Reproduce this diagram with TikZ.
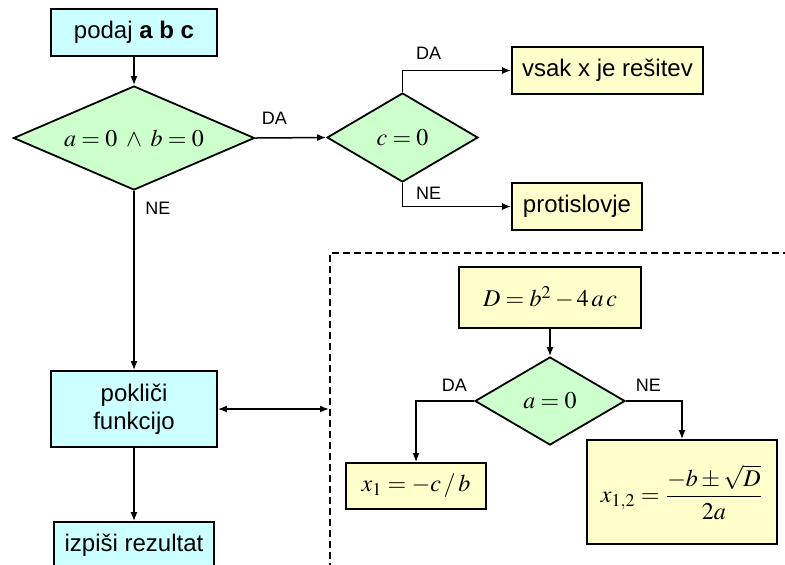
\documentclass[tikz,border=0pt]{standalone}
\usepackage{amsmath}
\usepackage{mathptmx}
\usepackage[no-math]{fontspec}
\setmainfont{Liberation Sans}
\usetikzlibrary{arrows.meta,shapes.geometric}
\definecolor{boxcyan}{HTML}{CCFFFF}
\definecolor{boxyellow}{HTML}{FFFFCC}
\definecolor{condgreen}{HTML}{CCFFCC}
\tikzset{
  block/.style = {draw=black, line width=0.9pt, align=center, inner sep=0pt, font=\fontsize{12}{14}\selectfont},
  block_c/.style = {block, fill=boxcyan},
  block_y/.style = {block, fill=boxyellow},
  cond/.style = {block, diamond, fill=condgreen},
  lbl/.style = {font=\fontsize{9}{10}\selectfont},
  link/.style = {line width=0.75pt, >={Latex[length=4.5pt,width=3.5pt]}, ->},
  region/.style = {line width=0.75pt, dash pattern=on 3.5pt off 2pt},
}

\begin{document}
\begin{tikzpicture}[x=0.5pt, y=-0.5pt]
  \useasboundingbox (0,0) rectangle (785,564);
  \clip (0,0) rectangle (785,564);
  % main program
  \node [block_c, minimum width=83pt, minimum height=23.5pt] (input) at (134,32.5) {podaj \textbf{a b c}};
  \node [cond, shape aspect=2.3, minimum width=120.5pt, minimum height=52pt] (test_ab) at (134,138) {$a=0\;\wedge\;b=0$};
  \node [cond, shape aspect=1.7, minimum width=75.5pt, minimum height=44.5pt] (test_c) at (402.5,137.5) {$c=0$};
  \node [block_y, minimum width=95.5pt, minimum height=23.5pt] (all_x) at (607.5,70.5) {vsak x je rešitev};
  \node [block_y, minimum width=65pt, minimum height=23.5pt] (contra) at (577,206.5) {protislovje};
  \node [block_c, minimum width=83pt, minimum height=38pt] (call) at (134,409) {pokliči\\funkcijo};
  \node [block_c, minimum width=80pt, minimum height=23.5pt] (output) at (134,545.5) {izpiši rezultat};
  % function
  \node [block_y, minimum width=91pt, minimum height=30.5pt] (disc) at (550,297.5) {$D=b^2-4\,a\,c$};
  \node [cond, shape aspect=1.7, minimum width=75pt, minimum height=44pt] (test_a) at (550,401) {$a=0$};
  \node [block_y, minimum width=70pt, minimum height=23pt] (lin) at (416,486) {$x_1=-c\,/\,b$};
  \node [block_y, minimum width=95pt, minimum height=52pt] (quad) at (682,492) {$x_{1,2}=\dfrac{-b\pm\sqrt{D}}{2a}$};
  \coordinate (sub) at (329,409);

  \draw [link] (input) -- (test_ab);
  \draw [link] (test_ab.east) -- node [lbl, pos=0.27, above=3pt] {DA} (test_c.west);
  \draw [link] (test_c.north) |- node [lbl, pos=0.62, above=2pt] {DA} (all_x.west);
  \draw [link] (test_c.south) |- node [lbl, pos=0.62, above=0pt] {NE} (contra.west);
  \draw [link] (test_ab.south) -- node [lbl, pos=0, below right=2pt] {NE} (call.north);
  \draw [link, <->] (call.east) -- (sub);
  \draw [link] (call) -- (output);
  \draw [region] (790,253) -| (330,570);
  \draw [link] (disc) -- (test_a);
  \draw [link] (test_a.west) -| node [lbl, pos=0.17, above=1pt] {DA} (lin.north);
  \draw [link] (test_a.east) -| node [lbl, pos=0.2, above=1pt] {NE} (quad.north);
\end{tikzpicture}
\end{document}
